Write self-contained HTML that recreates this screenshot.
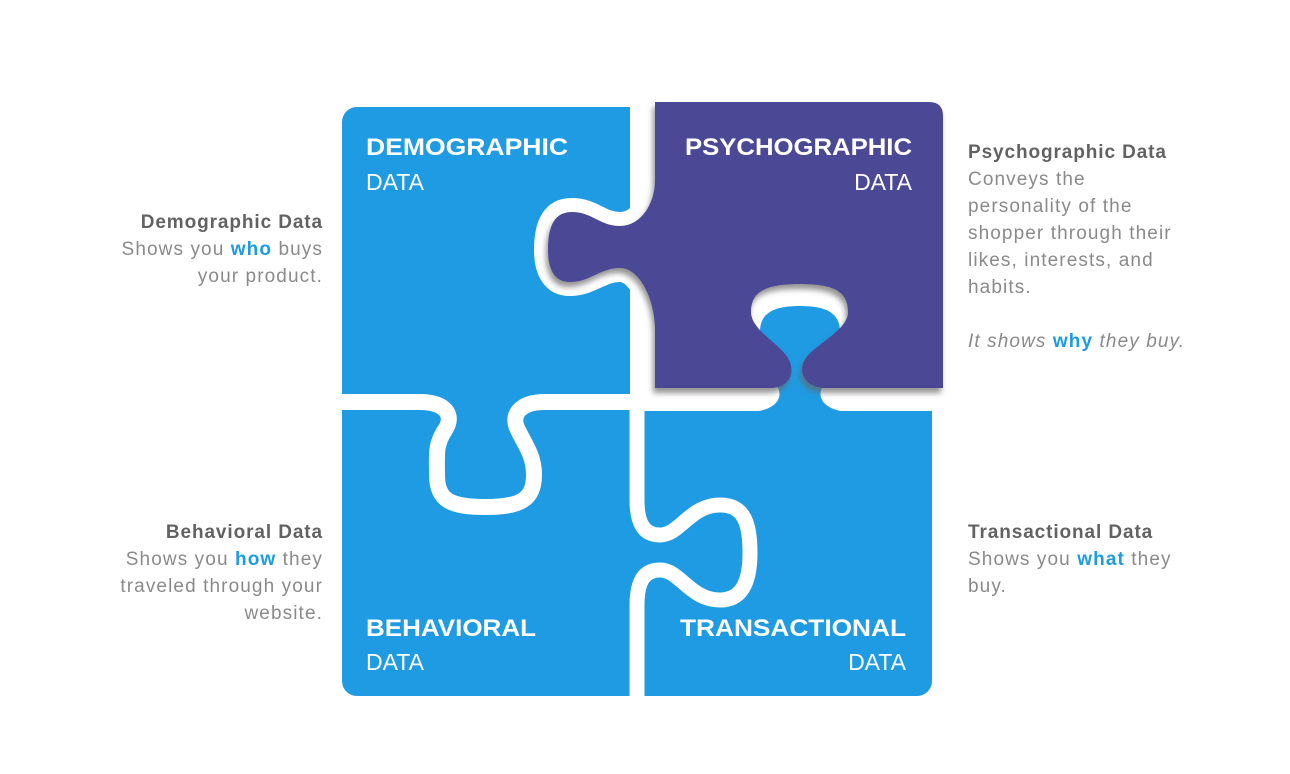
<!DOCTYPE html>
<html><head><meta charset="utf-8"><style>
html,body{margin:0;padding:0;background:#fff;}
svg{display:block;font-family:"Liberation Sans",sans-serif;}
.t{font-size:19px;fill:#8a8a8a;letter-spacing:1.1px;}
.h{font-weight:bold;fill:#626262;letter-spacing:0.9px;}
.k{font-weight:bold;fill:#1e9be3;}
.lb{font-size:24px;font-weight:bold;fill:#fff;}
.ld{font-size:23px;fill:#fff;}
</style></head><body>
<svg width="1290" height="774" viewBox="0 0 1290 774">
<defs><filter id="sh" x="-20%" y="-20%" width="140%" height="140%"><feDropShadow dx="-2" dy="5" stdDeviation="3" flood-color="#666" flood-opacity="0.7"/></filter></defs>
<rect x="342" y="107" width="590" height="589" rx="15" fill="#1e9be3"/>
<rect x="630" y="92" width="320" height="319" fill="#fff"/>
<path d="M342,402 H420 C445,402 455,415 445,430 C435,445 437,455 437,475 C437,500 450,507 485,507 C520,507 534,500 534,475 C534,455 525,445 518,430 C510,415 520,402 545,402 H642" fill="none" stroke="#fff" stroke-width="16"/>
<path d="M637,402 V500 C637,525 645,535 660,535 C680,535 690,505 720,505 C745,505 750,525 750,553 C750,585 740,600 720,600 C690,600 680,570 660,570 C645,570 637,580 637,605 V700" fill="none" stroke="#fff" stroke-width="15"/>
<path d="M655,102 H929 Q943,102 943,116 V388 H826 C806,388 796,372 806,358 C816,344 848,330 848,312 C848,292 835,284 800,284 C765,284 751,292 751,312 C751,330 780,344 788,358 C796,372 790,388 770,388 H655 V330 C655,300 640,268 620,268 C600,268 590,282 570,282 C555,282 548,270 548,250 C548,225 555,212 572,212 C592,212 600,226 620,226 C640,226 655,205 655,180 Z" fill="#fff" stroke="#fff" stroke-width="28" stroke-linejoin="round"/>
<rect x="645" y="411" width="287" height="20" fill="#1e9be3"/>
<path d="M748,412 C772,412 784,400 778,388 C770,374 760,358 760,332 C760,314 772,306 800,306 C828,306 840,314 840,332 C840,358 830,374 822,388 C816,400 828,412 852,412 Z" fill="#1e9be3"/>
<path d="M655,102 H929 Q943,102 943,116 V388 H826 C806,388 796,372 806,358 C816,344 848,330 848,312 C848,292 835,284 800,284 C765,284 751,292 751,312 C751,330 780,344 788,358 C796,372 790,388 770,388 H655 V330 C655,300 640,268 620,268 C600,268 590,282 570,282 C555,282 548,270 548,250 C548,225 555,212 572,212 C592,212 600,226 620,226 C640,226 655,205 655,180 Z" fill="#4b4896" filter="url(#sh)"/>

<text class="lb" x="366" y="155" textLength="202" lengthAdjust="spacingAndGlyphs">DEMOGRAPHIC</text>
<text class="ld" x="366" y="190">DATA</text>
<text class="lb" x="912" y="155" text-anchor="end" textLength="227" lengthAdjust="spacingAndGlyphs">PSYCHOGRAPHIC</text>
<text class="ld" x="912" y="190" text-anchor="end">DATA</text>
<text class="lb" x="366" y="636" textLength="170" lengthAdjust="spacingAndGlyphs">BEHAVIORAL</text>
<text class="ld" x="366" y="670">DATA</text>
<text class="lb" x="906" y="636" text-anchor="end" textLength="226" lengthAdjust="spacingAndGlyphs">TRANSACTIONAL</text>
<text class="ld" x="906" y="670" text-anchor="end">DATA</text>

<g class="t" text-anchor="end">
<text class="h" x="323" y="228">Demographic Data</text>
<text x="323" y="255">Shows you <tspan class="k">who</tspan> buys</text>
<text x="323" y="282">your product.</text>
</g>
<g class="t" text-anchor="end">
<text class="h" x="323" y="538">Behavioral Data</text>
<text x="323" y="565">Shows you <tspan class="k">how</tspan> they</text>
<text x="323" y="592">traveled through your</text>
<text x="323" y="619">website.</text>
</g>
<g class="t">
<text class="h" x="968" y="158">Psychographic Data</text>
<text x="968" y="185">Conveys the</text>
<text x="968" y="212">personality of the</text>
<text x="968" y="239">shopper through their</text>
<text x="968" y="266">likes, interests, and</text>
<text x="968" y="293">habits.</text>
<text x="968" y="347" font-style="italic">It shows <tspan class="k" font-style="normal">why</tspan> they buy.</text>
</g>
<g class="t">
<text class="h" x="968" y="538">Transactional Data</text>
<text x="968" y="565">Shows you <tspan class="k">what</tspan> they</text>
<text x="968" y="592">buy.</text>
</g>
</svg>
</body></html>
